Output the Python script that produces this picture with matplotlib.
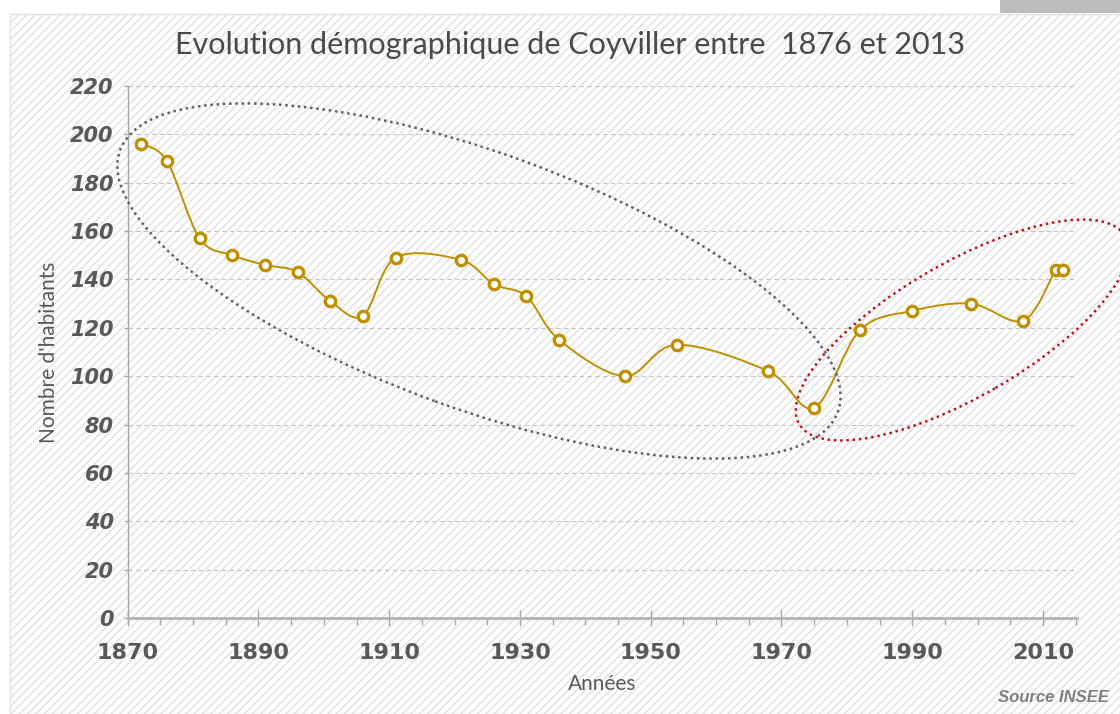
import numpy as np
import matplotlib
matplotlib.use("Agg")
import matplotlib.pyplot as plt
from matplotlib.patches import Rectangle, Ellipse, PathPatch
from matplotlib.path import Path

annees = [1872, 1876, 1881, 1886, 1891, 1896, 1901, 1906, 1911, 1921, 1926, 1931,
          1936, 1946, 1954, 1968, 1975, 1982, 1990, 1999, 2007, 2012, 2013]
habitants = [196, 189, 157, 150, 146, 143, 131, 125, 149, 148, 138, 133,
             115, 100, 113, 102, 87, 119, 127, 130, 123, 144, 144]
y_ticks = list(range(0, 221, 20))
x_ticks = list(range(1870, 2011, 20))

gold = '#BF9000'
txt = '#595959'

plt.rcParams['hatch.linewidth'] = 1.1
plt.rcParams['hatch.color'] = '#e3e3e3'

fig = plt.figure(figsize=(11.2, 7.14), dpi=100)

# fond hachuré + barre grise en haut à droite
bg = fig.add_axes([0, 0, 1, 1], zorder=-10)
bg.set_xlim(0, 1120)
bg.set_ylim(714, 0)
bg.axis('off')
bg.add_patch(Rectangle((10, 14), 1110, 700, facecolor='white', edgecolor='#e3e3e3',
                       hatch='////', linewidth=1))
bg.add_patch(Rectangle((1000, 0), 120, 13, facecolor='#bdbdbd', edgecolor='none'))

ax = fig.add_axes([0.114, 0.1345, 0.8476, 0.7451])
ax.patch.set_alpha(0)
ax.set_xlim(1870, 2015.2)
ax.set_ylim(0, 220)

# courbe lissée (bezier façon Excel)
x = np.array(annees, dtype=float)
y = np.array(habitants, dtype=float)
pts = np.column_stack([x, y])
verts = [pts[0]]
codes = [Path.MOVETO]
n = len(pts)
for i in range(n - 1):
    p0 = pts[i - 1] if i > 0 else pts[i]
    p1 = pts[i]
    p2 = pts[i + 1]
    p3 = pts[i + 2] if i + 2 < n else pts[i + 1]
    c1 = p1 + (p2 - p0) / 6
    c2 = p2 - (p3 - p1) / 6
    verts += [c1, c2, p2]
    codes += [Path.CURVE4] * 3
ax.add_patch(PathPatch(Path(verts, codes), facecolor='none', edgecolor=gold,
                       linewidth=1.4, zorder=3))
ax.plot(annees, habitants, linestyle='none', marker='o', markersize=7.5,
        markerfacecolor='white', markeredgecolor=gold, markeredgewidth=2.4, zorder=4)

ax.set_yticks(y_ticks)
ax.set_xticks(x_ticks)
ax.set_xticks(range(1870, 2016, 5), minor=True)
ax.grid(axis='y', linestyle=(0, (4, 3)), color='#c4c4c4', linewidth=0.8)
ax.set_axisbelow(True)

for s in ['top', 'right']:
    ax.spines[s].set_visible(False)
ax.spines['left'].set_color('#a6a6a6')
ax.spines['left'].set_linewidth(1)
ax.spines['bottom'].set_color('#b4b4b4')
ax.spines['bottom'].set_linewidth(2)

ax.tick_params(axis='x', which='major', direction='inout', length=12, width=1,
               color='#a6a6a6', pad=12)
ax.tick_params(axis='x', which='minor', direction='out', length=5, width=1,
               color='#a6a6a6')
ax.tick_params(axis='y', direction='out', length=3, width=1, color='#a6a6a6', pad=7)

for lab in ax.get_xticklabels():
    lab.set_fontsize(16)
    lab.set_fontweight('bold')
    lab.set_color(txt)
for lab in ax.get_yticklabels():
    lab.set_fontsize(15)
    lab.set_fontweight('bold')
    lab.set_fontstyle('italic')
    lab.set_color(txt)

ax.set_xlabel('Années', fontsize=15, color=txt, family='Lato', labelpad=8)
ax.set_ylabel("Nombre d'habitants", fontsize=15, color=txt, family='Lato', labelpad=8)

fig.text(0.509, 0.937, 'Evolution démographique de Coyviller entre  1876 et 2013',
         ha='center', va='center', fontsize=22, color='#4a4a4a', family='Lato')
fig.text(0.99, 0.012, 'Source INSEE', ha='right', va='bottom', fontsize=12,
         fontweight='bold', fontstyle='italic', color='#7f7f7f', family='Liberation Sans')

# ellipses de mise en évidence
fig.add_artist(Ellipse((4.79, 7.14 - 2.81), 7.64, 2.56, angle=-20, fill=False,
                       edgecolor='#606060', linestyle=(0, (1, 1.5)), linewidth=1.8,
                       transform=fig.dpi_scale_trans))
fig.add_artist(Ellipse((9.62, 7.14 - 3.30), 3.76, 1.34, angle=30, fill=False,
                       edgecolor='#c0141e', linestyle=(0, (1, 1.5)), linewidth=1.8,
                       transform=fig.dpi_scale_trans))

fig.savefig('out.png', dpi=100)
